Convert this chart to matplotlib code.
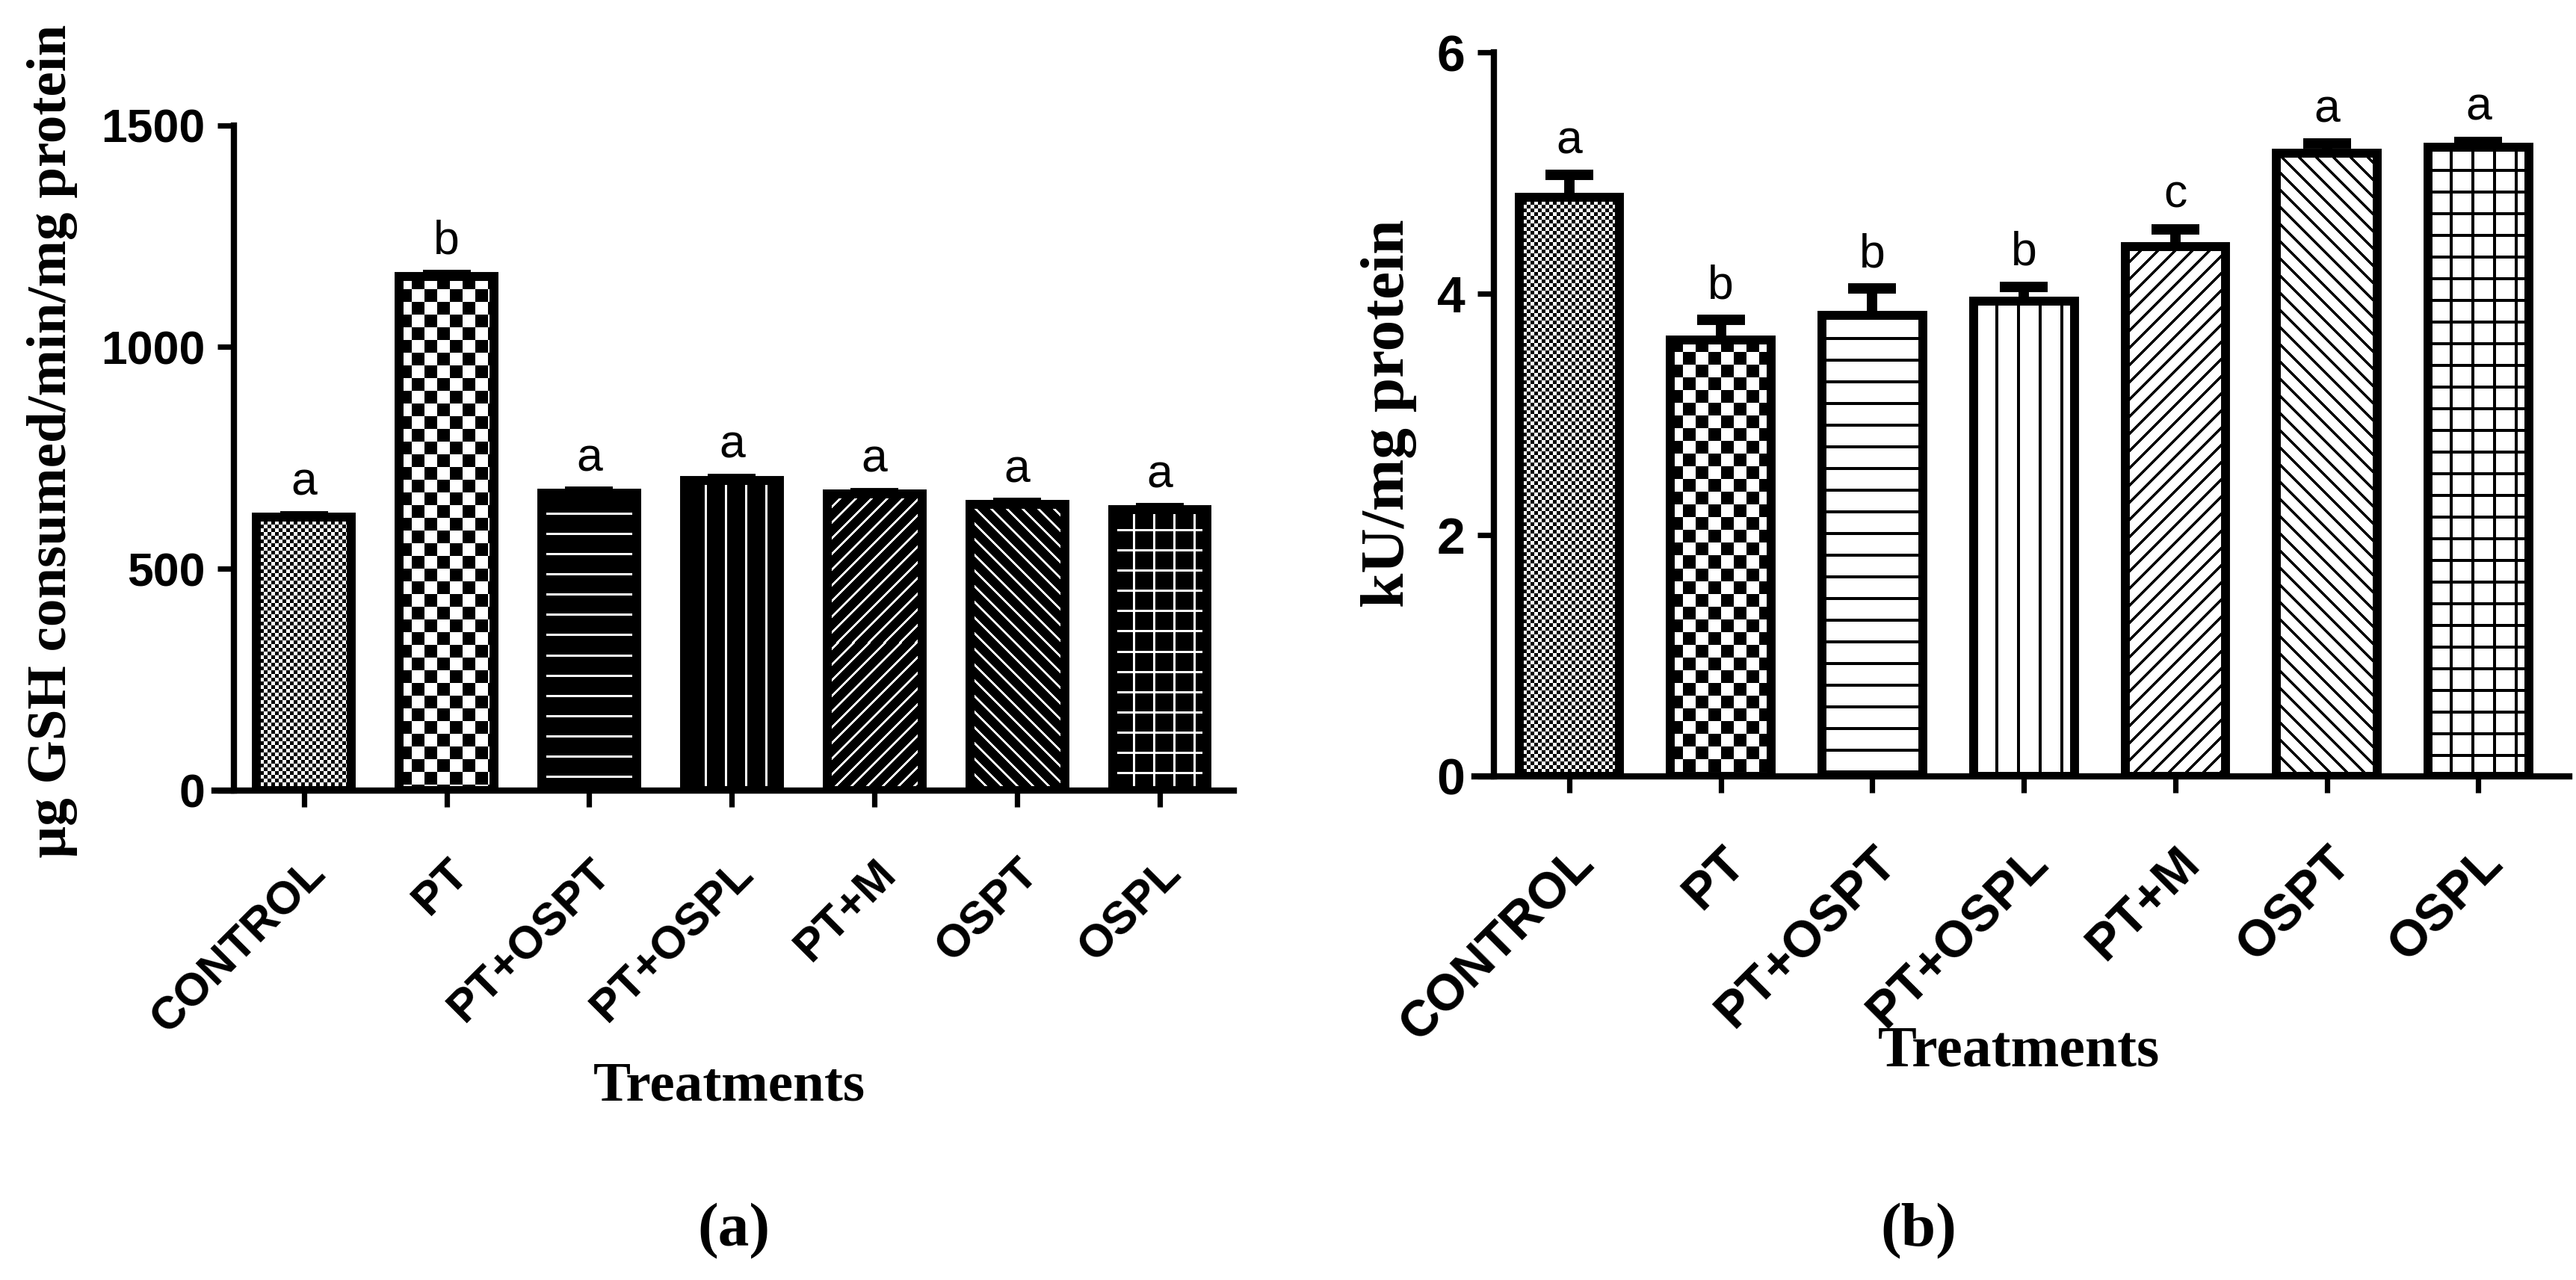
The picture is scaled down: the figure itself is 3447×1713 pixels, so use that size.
import numpy as np
import matplotlib
matplotlib.use('Agg')
import matplotlib.pyplot as plt

# datos
tratamientos = ['CONTROL', 'PT', 'PT+OSPT', 'PT+OSPL', 'PT+M', 'OSPT', 'OSPL']
patrones = ['fino', 'damero', 'horiz', 'vert', 'diag_sub', 'diag_baj', 'rejilla']

gsh_media = [616, 1159, 671, 700, 668, 645, 634]
gsh_error = [3, 4, 3, 3, 3, 3, 3]
gsh_letras = ['a', 'b', 'a', 'a', 'a', 'a', 'a']

ku_media = [4.80, 3.62, 3.82, 3.94, 4.39, 5.165, 5.215]
ku_error = [0.185, 0.165, 0.225, 0.12, 0.145, 0.08, 0.045]
ku_letras = ['a', 'b', 'b', 'b', 'c', 'a', 'a']

DPI = 200
SANS = 'Liberation Sans'
SERIF = 'Liberation Serif'


def textura(tipo, h, w, paso, grosor):
    """Mascara booleana (True = trazo) del relleno de una barra, en pixeles."""
    yy, xx = np.mgrid[0:h, 0:w]
    if tipo == 'fino':
        return (xx // 5 + yy // 5) % 2 == 0
    if tipo == 'damero':
        return (xx // 17 + yy // 17) % 2 == 0
    if tipo == 'horiz':
        return (yy % paso) < grosor
    if tipo == 'vert':
        return (xx % paso) < grosor
    if tipo == 'diag_sub':
        return ((xx + yy) % int(paso * 0.8)) < grosor + 1
    if tipo == 'diag_baj':
        return ((xx - yy) % int(paso * 0.8)) < grosor + 1
    # rejilla
    return ((xx % paso) < grosor) | ((yy % paso) < grosor)


def dibujar_panel(ax, medias, errores, letras, ylim, yticks, trazo, fondo,
                  paso, grosor, fs_ticks, fs_xticks, pad_x, off_letra, xlim):
    x = np.arange(len(tratamientos))
    ax.set_xlim(*xlim)
    ax.set_ylim(*ylim)
    barras = ax.bar(x, medias, width=0.665, facecolor='none', edgecolor='black',
                    linewidth=4.3, zorder=3)
    # relleno con textura en cada barra
    for barra, pat in zip(barras, patrones):
        x0, y0 = barra.get_x(), barra.get_y()
        x1, y1 = x0 + barra.get_width(), y0 + barra.get_height()
        (px0, py0), (px1, py1) = ax.transData.transform([(x0, y0), (x1, y1)])
        w = int(round(px1 - px0))
        h = int(round(py1 - py0))
        m = textura(pat, h, w, paso, grosor)
        img = np.where(m[..., None], np.array(trazo, float), np.array(fondo, float))
        ax.imshow(img, extent=(x0, x1, y0, y1), aspect='auto',
                  interpolation='nearest', zorder=2)
    eb = ax.errorbar(x, medias, yerr=[np.zeros(len(x)), errores], fmt='none',
                     ecolor='black', elinewidth=5, capsize=11.5, capthick=5, zorder=4)
    eb[1][0].set_visible(False)
    for xi, v, e, l in zip(x, medias, errores, letras):
        ax.annotate(l, xy=(xi, v + e), xytext=(0, off_letra), textcoords='offset points',
                    ha='center', va='baseline', fontsize=22.5, family=SANS)
    ax.set_xlim(*xlim)
    ax.set_ylim(*ylim)

    ax.spines['top'].set_visible(False)
    ax.spines['right'].set_visible(False)
    for s in ['left', 'bottom']:
        ax.spines[s].set_linewidth(3)
    # el eje x empieza donde acaba la marca del 0
    ancho_px = ax.transData.transform((1, 0))[0] - ax.transData.transform((0, 0))[0]
    ext = (8 / 72 * DPI + 1.5 / 72 * DPI) / ancho_px
    ax.spines['bottom'].set_bounds(xlim[0] - ext, xlim[1])
    ax.spines['left'].set_bounds(ylim[0], ylim[1])

    ax.set_yticks(yticks)
    ax.set_yticklabels([str(t) for t in yticks], fontsize=fs_ticks, family=SANS,
                       weight='bold')
    ax.tick_params(axis='y', direction='out', length=8, width=2.6, pad=6)
    ax.set_xticks(x)
    ax.set_xticklabels(tratamientos, rotation=45, ha='right', va='top',
                       rotation_mode='anchor', fontsize=fs_xticks, family=SANS,
                       weight='bold')
    ax.tick_params(axis='x', direction='out', length=8, width=2.6, pad=pad_x)


fig = plt.figure(figsize=(3448 / DPI, 1713 / DPI), dpi=DPI)

ax1 = fig.add_axes([0.0908, 0.3824, 0.3881, 0.5197])
dibujar_panel(ax1, gsh_media, gsh_error, gsh_letras, (0, 1500), [0, 500, 1000, 1500],
              trazo=(1, 1, 1), fondo=(0, 0, 0), paso=27, grosor=3,
              fs_ticks=22.5, fs_xticks=22, pad_x=21.5, off_letra=10, xlim=(-0.49, 6.52))

ax2 = fig.add_axes([0.5799, 0.3935, 0.4172, 0.5654])
dibujar_panel(ax2, ku_media, ku_error, ku_letras, (0, 6), [0, 2, 4, 6],
              trazo=(0, 0, 0), fondo=(1, 1, 1), paso=29, grosor=4,
              fs_ticks=24.5, fs_xticks=24.5, pad_x=22, off_letra=10.4, xlim=(-0.496, 6.6))

# etiquetas de ejes y de panel
fig.text(0.0203, 0.6556, 'µg GSH consumed/min/mg protein', rotation=90,
         ha='center', va='center', fontsize=27, family=SERIF, weight='bold')
fig.text(0.539, 0.677, 'kU/mg protein', rotation=90,
         ha='center', va='center', fontsize=30, family=SERIF, weight='bold')
fig.text(0.2831, 0.1402, 'Treatments', ha='center', va='baseline',
         fontsize=27, family=SERIF, weight='bold')
fig.text(0.7834, 0.1675, 'Treatments', ha='center', va='baseline',
         fontsize=28, family=SERIF, weight='bold')
fig.text(0.2848, 0.038, '(a)', ha='center', va='center',
         fontsize=30, family=SERIF, weight='bold')
fig.text(0.7445, 0.038, '(b)', ha='center', va='center',
         fontsize=30, family=SERIF, weight='bold')

fig.savefig('out.png', dpi=DPI)
